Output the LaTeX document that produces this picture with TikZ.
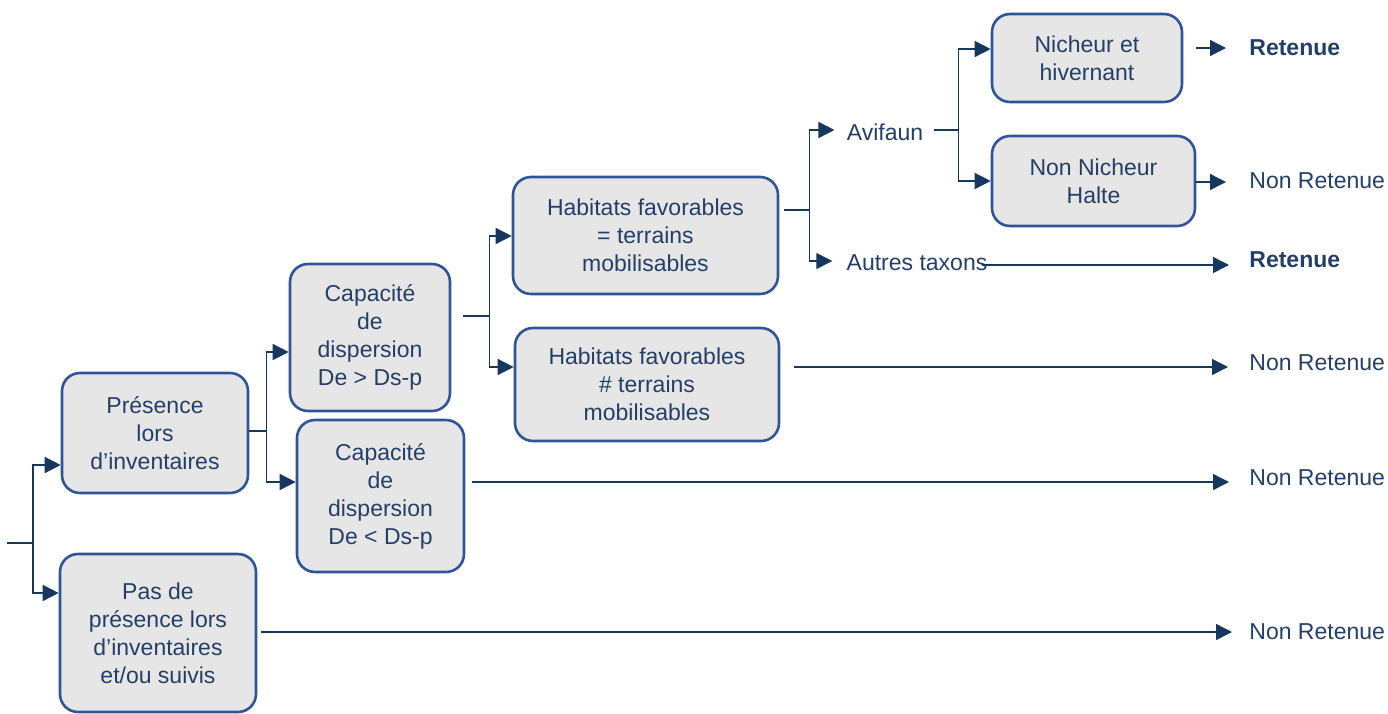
\documentclass[tikz,border=0pt]{standalone}
\usepackage{fontspec}
\setmainfont{Liberation Sans}
\usetikzlibrary{arrows.meta, positioning, calc}
\definecolor{NavyText}{HTML}{243F66}
\definecolor{BoxEdge}{HTML}{2F5597}
\definecolor{BoxFill}{HTML}{E7E6E6}
\definecolor{LinkBlue}{HTML}{17375E}

\tikzset{
  boite/.style={draw=BoxEdge, line width=1.3pt, fill=BoxFill, rounded corners=9pt,
    align=center, text=NavyText, font=\fontsize{11.5}{14}\selectfont, inner sep=0pt},
  etiq/.style={text=NavyText, font=\fontsize{11.5}{14}\selectfont, inner sep=0pt},
  lien/.style={LinkBlue, line width=0.7pt},
  fleche/.style={lien, ->},
}

\begin{document}
\begin{tikzpicture}[x=0.5pt, y=-0.5pt, >={Triangle[length=8pt,width=8pt]}]
    \useasboundingbox (0,0) rectangle (1388,713);
    % Boxes
    \node[boite, minimum width=93pt, minimum height=60pt] (presence) at (155,433) {Présence\\lors\\d’inventaires};
    \node[boite, minimum width=98pt, minimum height=79pt] (pasde) at (158,633) {Pas de\\présence lors\\d’inventaires\\et/ou suivis};
    \node[boite, minimum width=80pt, minimum height=73.5pt] (cap1) at (370,337.5) {Capacité\\de\\dispersion\\De > Ds-p};
    \node[boite, minimum width=83.5pt, minimum height=76pt] (cap2) at (380.5,496) {Capacité\\de\\dispersion\\De < Ds-p};
    \node[boite, minimum width=132.5pt, minimum height=58.5pt] (hab1) at (645.5,235.5) {Habitats favorables\\= terrains\\mobilisables};
    \node[boite, minimum width=132pt, minimum height=56.5pt] (hab2) at (647,384.5) {Habitats favorables\\\# terrains\\mobilisables};
    \node[boite, minimum width=95pt, minimum height=44pt] (nicheur) at (1087,58) {Nicheur et\\hivernant};
    \node[boite, minimum width=101.5pt, minimum height=45pt] (nonnich) at (1093.5,181) {Non Nicheur\\Halte};

    % Labels
    \node[etiq] (avifaun) at (885,132) {Avifaun};
    \node[etiq] (autres) at (917,263) {Autres taxons};
    \node[etiq, anchor=west, font=\fontsize{11.5}{14}\selectfont\bfseries] (r1) at (1249,48) {Retenue};
    \node[etiq, anchor=west, font=\fontsize{11.5}{14}\selectfont\bfseries] (r2) at (1249,260) {Retenue};
    \foreach \y/\n in {181/nr1, 363/nr2, 478/nr3, 632/nr4}
        \node[etiq, anchor=west] (\n) at (1249,\y) {Non Retenue};

    % Branches
    \coordinate (racine) at (7,543);
    \draw[lien] (racine) -- (33,543) coordinate (j0);
    \draw[fleche] (j0) |- (presence.west |- 0,465);
    \draw[fleche] (j0) |- (pasde.west |- 0,593);

    \draw[lien] (presence.east |- 0,431) -- ++(17,0) coordinate (j1);
    \draw[fleche] (j1) |- (cap1.west |- 0,352);
    \draw[fleche] (j1) |- (cap2.west |- 0,482);

    \draw[lien, shorten <=6pt] (cap1.east |- 0,316) -- ++(38,0) coordinate (j2);
    \draw[fleche] (j2) |- (hab1.west |- 0,236);
    \draw[fleche] (j2) |- (hab2.west |- 0,367);

    \draw[lien, shorten <=2.5pt] (hab1.east |- 0,210) -- ++(30,0) coordinate (j3);
    \draw[fleche, shorten >=6pt] (j3) |- (avifaun.west |- 0,130);
    \draw[fleche, shorten >=7pt] (j3) |- (autres.west |- 0,261);

    \draw[lien, shorten <=5pt] (avifaun.east |- 0,130) -- ++(35,0) coordinate (j4);
    \draw[fleche] (j4) |- (nicheur.west |- 0,49);
    \draw[fleche] (j4) |- (nonnich.west |- 0,181);

    % Results
    \draw[fleche, shorten <=6.5pt, shorten >=11.5pt] (nicheur.east |- 0,48) -- (r1.west |- 0,48);
    \draw[fleche, shorten >=11.5pt] (nonnich.east |- 0,182) -- (nr1.west |- 0,182);
    \draw[fleche, shorten <=-3pt, shorten >=10pt] (autres.east |- 0,265) -- (r2.west |- 0,265);
    \draw[fleche, shorten <=7pt, shorten >=10.5pt] (hab2.east |- 0,367) -- (nr2.west |- 0,367);
    \draw[fleche, shorten <=3.5pt, shorten >=10pt] (cap2.east |- 0,482) -- (nr3.west |- 0,482);
    \draw[fleche, shorten <=2pt, shorten >=8.5pt] (pasde.east |- 0,632) -- (nr4.west |- 0,632);
\end{tikzpicture}
\end{document}
